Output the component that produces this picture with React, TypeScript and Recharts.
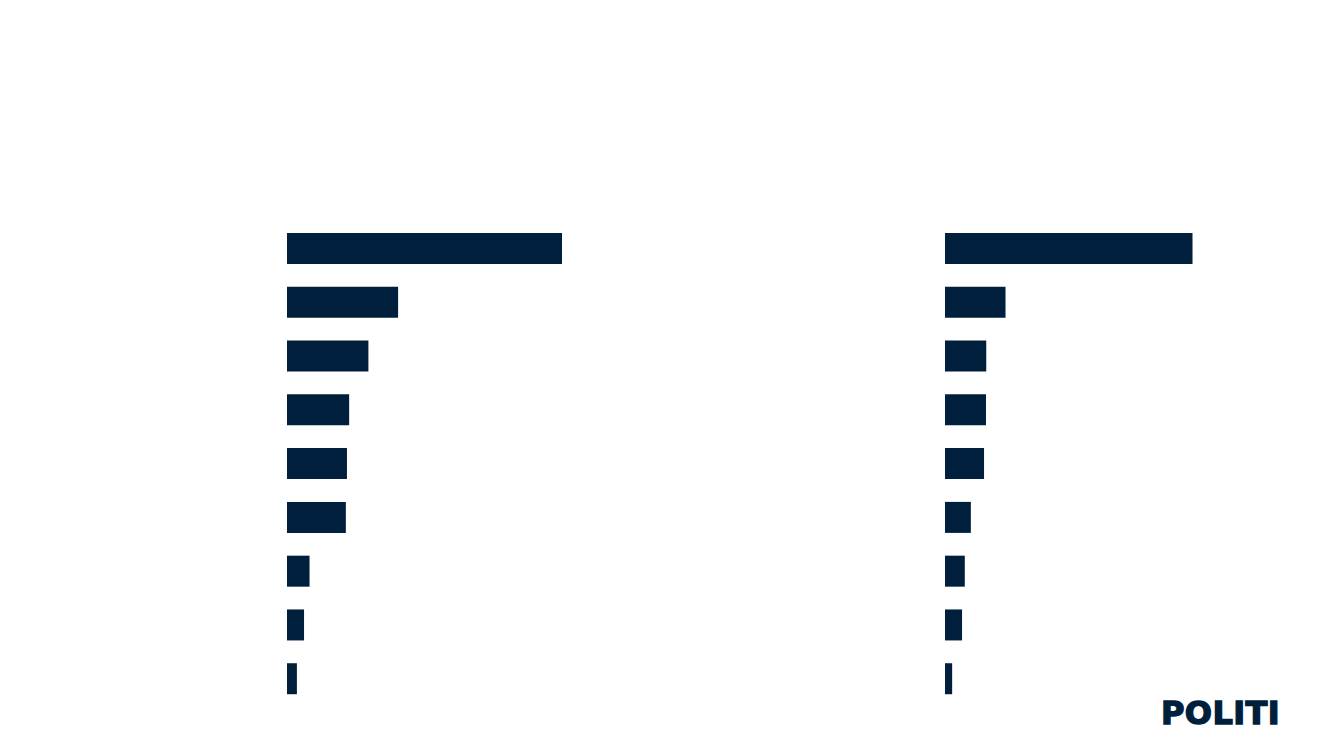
import { BarChart, Bar, XAxis, YAxis } from "recharts";

// Categories are unlabeled in the source; keep generic keys
const categories = ["k1", "k2", "k3", "k4", "k5", "k6", "k7", "k8", "k9"];
const leftValues = [50, 20.2, 14.8, 11.3, 10.9, 10.7, 4.1, 3.1, 1.8];
const rightValues = [45, 11, 7.5, 7.45, 7.1, 4.7, 3.6, 3.1, 1.3];

const NAVY = "#001f3d";

const leftData = categories.map((c, i) => ({ name: c, value: leftValues[i] }));
const rightData = categories.map((c, i) => ({ name: c, value: rightValues[i] }));

function Panel({ data, width, max }: { data: { name: string; value: number }[]; width: number; max: number }) {
  return (
    <BarChart
      width={width}
      height={484}
      data={data}
      layout="vertical"
      margin={{ top: 0, right: 0, bottom: 0, left: 0 }}
    >
      <XAxis type="number" domain={[0, max]} hide />
      <YAxis type="category" dataKey="name" hide />
      <Bar dataKey="value" fill={NAVY} barSize={31} isAnimationActive={false} />
    </BarChart>
  );
}

export default function App() {
  return (
    <div
      style={{
        position: "fixed",
        top: 0,
        left: 0,
        width: 1333,
        height: 750,
        background: "#ffffff",
        overflow: "hidden",
      }}
    >
      {/* left panel */}
      <div style={{ position: "absolute", left: 287, top: 222 }}>
        <Panel data={leftData} width={550} max={100} />
      </div>

      {/* right panel */}
      <div style={{ position: "absolute", left: 945, top: 222 }}>
        <Panel data={rightData} width={385} max={70} />
      </div>

      {/* logo */}
      <svg width={200} height={60} style={{ position: "absolute", left: 1140, top: 680 }}>
        <text
          x={21}
          y={44}
          fill={NAVY}
          stroke={NAVY}
          strokeWidth={1.4}
          fontFamily="DejaVu Sans"
          fontWeight={700}
          fontSize={32}
          letterSpacing={0.4}
        >
          POLITI
        </text>
      </svg>
    </div>
  );
}
